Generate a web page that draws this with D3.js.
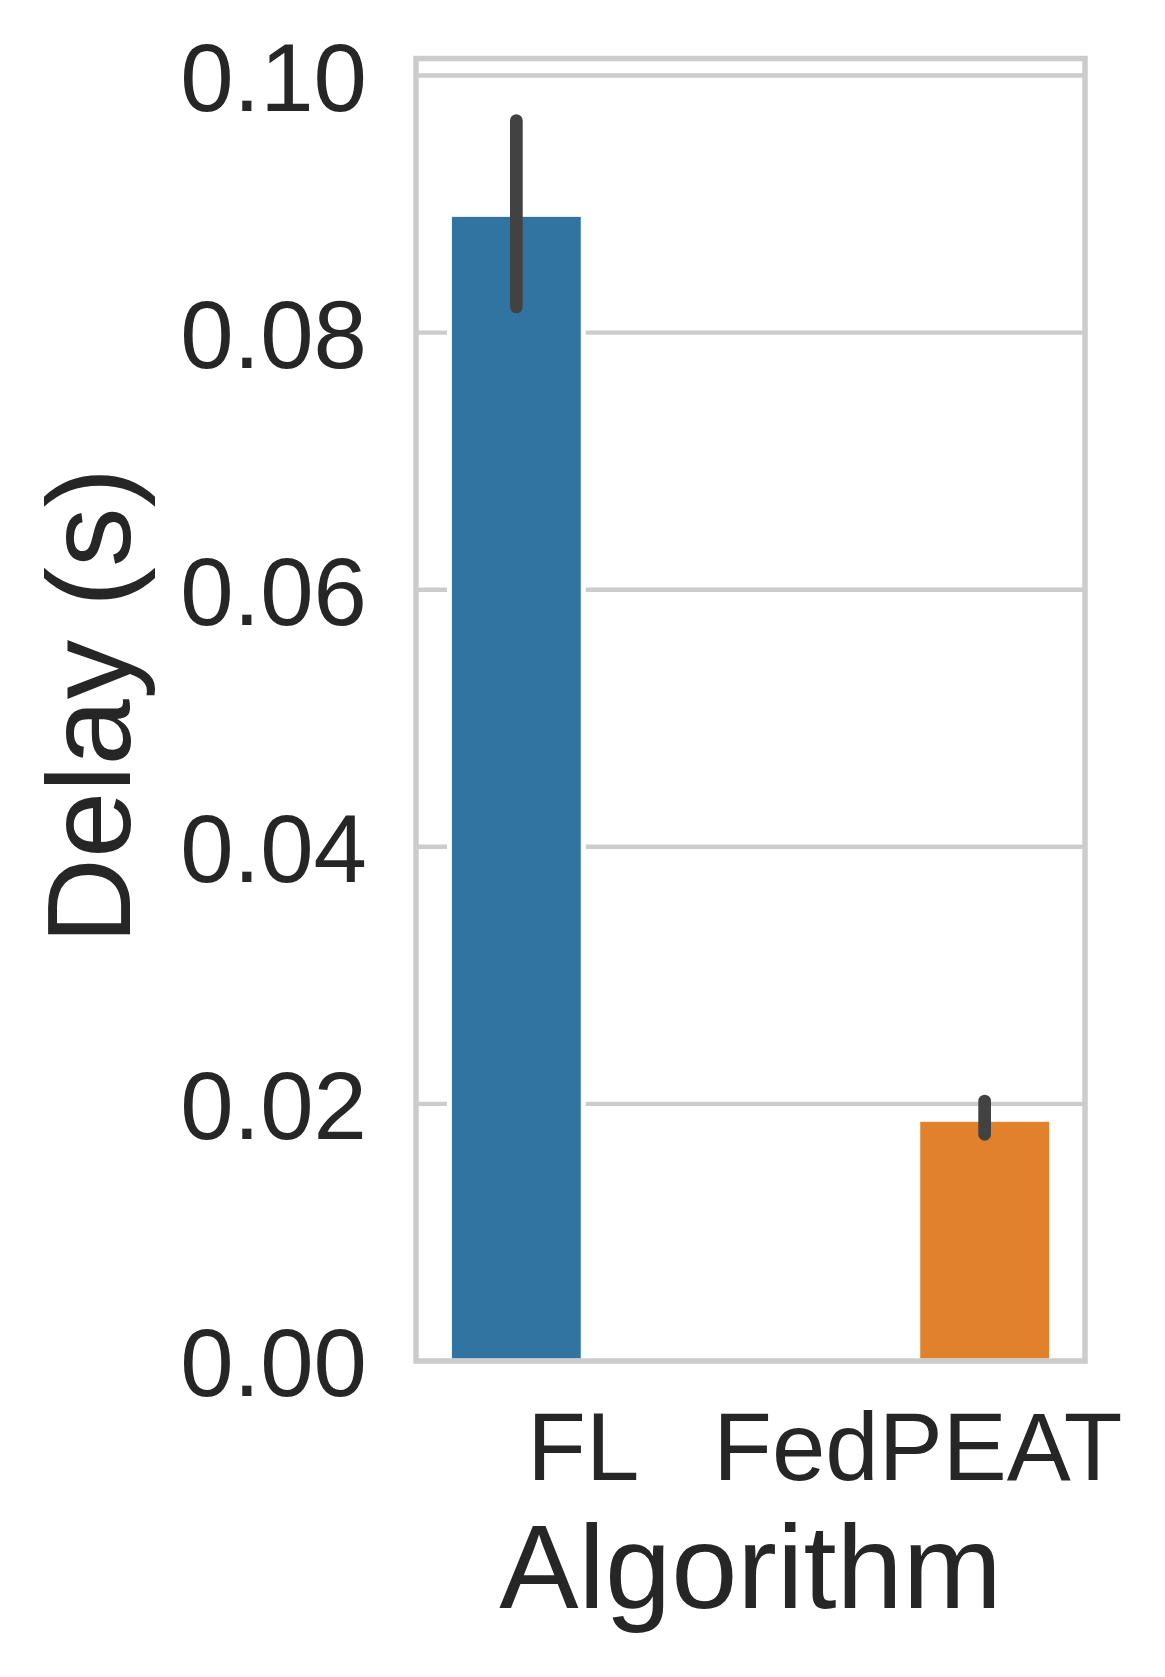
<!DOCTYPE html>
<html>
<head>
<meta charset="utf-8">
<script src="https://cdn.jsdelivr.net/npm/d3@7"></script>
<style>
  body { margin: 0; background: #fff; }
  text { font-family: "Liberation Sans", Arial, sans-serif; fill: #262626; }
</style>
</head>
<body>
<div id="chart"></div>
<script>
// データ
const algorithms = ["FL", "FedPEAT"];
const delayMean = [0.0892, 0.0188];
const errLow = [0.0820, 0.01763];
const errHigh = [0.0965, 0.02022];
const yTicks = [0.00, 0.02, 0.04, 0.06, 0.08, 0.10];
const colors = ["#3274a1", "#e1812c"];

function chart() {
  // グラフの設定
  const margin = { top: 58.5, right: 80, bottom: 316, left: 416 };
  const W = 1165, H = 1677;
  const width = W - margin.left - margin.right;
  const height = H - margin.top - margin.bottom;

  const svg = d3.select("#chart")
    .append("svg")
    .attr("width", W)
    .attr("height", H)
    .append("g")
    .attr("transform", `translate(${margin.left},${margin.top})`);

  // スケール設定（x=Algorithm, hue=Algorithm で dodge）
  const x = d3.scaleBand()
    .domain(algorithms)
    .range([0, width])
    .padding(0);

  const hue = d3.scaleBand()
    .domain(algorithms)
    .range([x.bandwidth() * 0.1, x.bandwidth() * 0.9]);

  const y = d3.scaleLinear()
    .domain([0, errHigh[0] * 1.05])
    .range([height, 0]);

  const data = algorithms.map((a, i) => ({
    name: a, value: delayMean[i], lo: errLow[i], hi: errHigh[i], color: colors[i]
  }));

  // グリッド線
  svg.append("g")
    .selectAll("line")
    .data(yTicks)
    .enter()
    .append("line")
    .attr("x1", 0)
    .attr("x2", width)
    .attr("y1", d => y(d))
    .attr("y2", d => y(d))
    .attr("stroke", "#cccccc")
    .attr("stroke-width", 4.4);

  // 棒グラフ
  svg.selectAll("rect.bar")
    .data(data)
    .enter()
    .append("rect")
    .attr("class", "bar")
    .attr("x", d => x(d.name) + hue(d.name))
    .attr("y", d => y(d.value))
    .attr("width", hue.bandwidth())
    .attr("height", d => y(0) - y(d.value))
    .attr("fill", d => d.color)
    .attr("stroke", "#ffffff")
    .attr("stroke-width", 5);

  // エラーバー
  svg.selectAll("line.err")
    .data(data)
    .enter()
    .append("line")
    .attr("class", "err")
    .attr("x1", d => x(d.name) + hue(d.name) + hue.bandwidth() / 2)
    .attr("x2", d => x(d.name) + hue(d.name) + hue.bandwidth() / 2)
    .attr("y1", d => y(d.lo))
    .attr("y2", d => y(d.hi))
    .attr("stroke", "#424242")
    .attr("stroke-width", 12.7)
    .attr("stroke-linecap", "round");

  // 枠線
  svg.append("rect")
    .attr("x", 0)
    .attr("y", 0)
    .attr("width", width)
    .attr("height", height)
    .attr("fill", "none")
    .attr("stroke", "#cccccc")
    .attr("stroke-width", 5.5);

  // Y軸
  const yAxis = svg.append("g")
    .attr("transform", "translate(-49,0)")
    .call(d3.axisLeft(y).tickValues(yTicks).tickFormat(d3.format(".2f")).tickSize(0));
  yAxis.select(".domain").remove();
  yAxis.selectAll("text")
    .attr("x", 0)
    .attr("dy", "0.36em")
    .style("font-size", "96px")
    .style("fill", "#262626");

  // X軸
  const xAxis = svg.append("g")
    .attr("transform", `translate(0,${height})`)
    .call(d3.axisBottom(x).tickSize(0));
  xAxis.select(".domain").remove();
  xAxis.selectAll("text")
    .attr("y", 0)
    .attr("dy", 0)
    .attr("transform", "translate(0,119)")
    .style("font-size", "96px")
    .style("fill", "#262626");

  // 軸ラベル
  svg.append("text")
    .attr("x", width / 2)
    .attr("y", 1608 - margin.top)
    .attr("text-anchor", "middle")
    .style("font-size", "119px")
    .text("Algorithm");

  svg.append("text")
    .attr("transform", `translate(${130 - margin.left},${706 - margin.top}) rotate(-90)`)
    .attr("text-anchor", "middle")
    .style("font-size", "119px")
    .text("Delay (s)");
}
chart();
</script>
</body>
</html>
